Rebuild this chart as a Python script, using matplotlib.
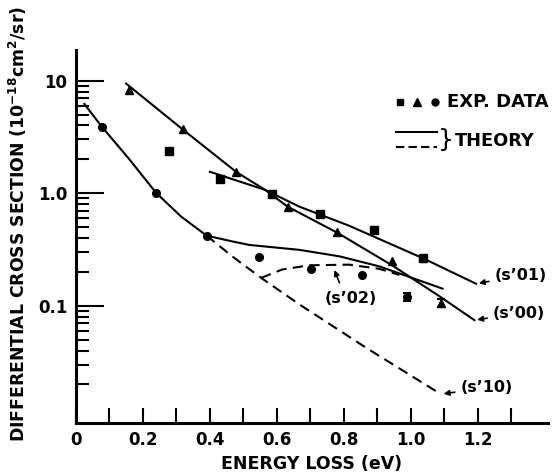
import matplotlib
matplotlib.use("Agg")
import matplotlib.pyplot as plt
from matplotlib.lines import Line2D
from matplotlib.ticker import FixedLocator, FixedFormatter, LogLocator, NullFormatter

tri_x = [0.158, 0.319, 0.478, 0.632, 0.781, 0.943, 1.09]
tri_y = [8.3, 3.68, 1.55, 0.76, 0.448, 0.248, 0.106]
sq_x = [0.277, 0.431, 0.587, 0.729, 0.891, 1.037]
sq_y = [2.38, 1.33, 0.986, 0.656, 0.473, 0.264]
ci_x = [0.077, 0.239, 0.390, 0.548, 0.702, 0.853, 0.99]
ci_y = [3.89, 1.01, 0.419, 0.271, 0.212, 0.189, 0.120]

# error bars on last points
err_x = [1.037, 0.99, 1.09]
err_y = [0.264, 0.120, 0.106]
err_lo = [0.019, 0.010, 0.009]
err_hi = [0.021, 0.011, 0.010]

# theory curves
s00_x = [0.150, 0.319, 0.478, 0.565, 0.632, 0.781, 0.946, 1.085, 1.19]
s00_y = [9.4, 3.68, 1.55, 1.07, 0.76, 0.445, 0.227, 0.122, 0.0746]
s01_x = [0.40, 0.565, 0.667, 0.816, 1.037, 1.195]
s01_y = [1.55, 1.07, 0.76, 0.514, 0.264, 0.157]
s10_x = [0.025, 0.077, 0.16, 0.239, 0.314, 0.39]
s10_y = [6.2, 3.9, 1.99, 1.01, 0.62, 0.42]
s10d_x = [0.39, 0.468, 0.553, 0.667, 0.866, 1.09]
s10d_y = [0.42, 0.273, 0.177, 0.103, 0.0425, 0.0164]
s02_x = [0.39, 0.467, 0.518, 0.667, 0.787, 0.906, 1.095]
s02_y = [0.42, 0.373, 0.347, 0.314, 0.275, 0.224, 0.142]
s02d_x = [0.553, 0.616, 0.697, 0.816, 0.906, 0.966]
s02d_y = [0.177, 0.21, 0.229, 0.232, 0.213, 0.188]

x_ticks = [0, 0.2, 0.4, 0.6, 0.8, 1.0, 1.2]
x_labels = ["0", "0.2", "0.4", "0.6", "0.8", "1.0", "1.2"]
y_ticks = [0.1, 1.0, 10]
y_labels = ["0.1", "1.0", "10"]

plt.rcParams["font.family"] = "DejaVu Sans"
plt.rcParams["font.weight"] = "bold"
plt.rcParams["mathtext.default"] = "bf"

fig = plt.figure(figsize=(5.57, 4.76), dpi=100)
ax = fig.add_axes([76 / 557, 1 - 423 / 476, (548 - 76) / 557, (423 - 50) / 476])

lw = 1.5
ax.plot(s00_x, s00_y, color="black", lw=lw)
ax.plot(s01_x, s01_y, color="black", lw=lw)
ax.plot(s10_x, s10_y, color="black", lw=lw)
ax.plot(s02_x, s02_y, color="black", lw=lw)
ax.plot(s10d_x, s10d_y, color="black", lw=lw, ls=(0, (5, 3)))
ax.plot(s02d_x, s02d_y, color="black", lw=lw, ls=(0, (5, 3)))

ax.plot(tri_x, tri_y, "^", color="black", ms=6)
ax.plot(sq_x, sq_y, "s", color="black", ms=5.5)
ax.plot(ci_x, ci_y, "o", color="black", ms=5.5)
ax.errorbar(err_x, err_y, yerr=[err_lo, err_hi], fmt="none", ecolor="black",
            elinewidth=1.5, capsize=3, capthick=1.5)

ax.set_yscale("log")
ax.set_xlim(0, 1.41)
ax.set_ylim(0.0091, 18.7)

ax.xaxis.set_major_locator(FixedLocator(x_ticks))
ax.xaxis.set_major_formatter(FixedFormatter(x_labels))
ax.xaxis.set_minor_locator(FixedLocator([0.1, 0.3, 0.5, 0.7, 0.9, 1.1, 1.3]))
ax.yaxis.set_major_locator(FixedLocator(y_ticks))
ax.yaxis.set_major_formatter(FixedFormatter(y_labels))
ax.yaxis.set_minor_locator(LogLocator(base=10, subs=range(2, 10)))
ax.yaxis.set_minor_formatter(NullFormatter())

ax.tick_params(axis="x", which="both", direction="in", length=11, width=1.5,
               pad=6, labelsize=12)
ax.tick_params(axis="y", which="major", direction="in", length=20, width=1.5,
               pad=6, labelsize=12)
ax.tick_params(axis="y", which="minor", direction="in", length=9, width=1.5)

for side in ("top", "right"):
    ax.spines[side].set_visible(False)
for side in ("left", "bottom"):
    ax.spines[side].set_linewidth(2.2)

ax.set_xlabel("ENERGY LOSS (eV)", fontsize=12.5, fontweight="bold", labelpad=4)
fig.text(18 / 557, 1 - 224 / 476,
         r"DIFFERENTIAL CROSS SECTION (10$^{-18}$cm$^{2}$/sr)",
         rotation=90, ha="center", va="center", fontsize=12.4, fontweight="bold")

# curve labels with arrows
arrow = dict(arrowstyle="-|>", color="black", lw=1.2, mutation_scale=8)
ax.annotate("(s\u201901)", xy=(1.195, 0.157), xytext=(1.25, 0.185),
            fontsize=11.5, ha="left", va="center", arrowprops=arrow)
ax.annotate("(s\u201900)", xy=(1.19, 0.0746), xytext=(1.245, 0.0855),
            fontsize=11.5, ha="left", va="center", arrowprops=arrow)
ax.annotate("(s\u201910)", xy=(1.09, 0.0164), xytext=(1.148, 0.0188),
            fontsize=11.5, ha="left", va="center", arrowprops=arrow)
ax.annotate("", xy=(0.772, 0.208), xytext=(0.787, 0.16),
            arrowprops=dict(arrowstyle="-|>", color="black", lw=1.2,
                            mutation_scale=8, shrinkA=0, shrinkB=0))
ax.text(0.821, 0.117, "(s\u201902)", fontsize=11.5, ha="center", va="center")

# key
def fx(px):
    return px / 557


def fy(py):
    return 1 - py / 476


for mx, mk, ms in ((400, "s", 5), (417, "^", 5.5), (435, "o", 5)):
    fig.add_artist(Line2D([fx(mx)], [fy(102)], marker=mk, ms=ms, color="black", ls="none"))
fig.text(fx(447), fy(102), "EXP. DATA", fontsize=13, fontweight="bold", va="center")
fig.add_artist(Line2D([fx(396), fx(437)], [fy(132), fy(132)], color="black", lw=1.5))
fig.add_artist(Line2D([fx(396), fx(437)], [fy(147), fy(147)], color="black", lw=1.5,
                      ls=(0, (4, 2))))
fig.text(fx(438), fy(140), "}", fontsize=18, fontweight="normal", va="center")
fig.text(fx(455), fy(141), "THEORY", fontsize=12.8, fontweight="bold", va="center")

fig.savefig("out.png", dpi=100)
